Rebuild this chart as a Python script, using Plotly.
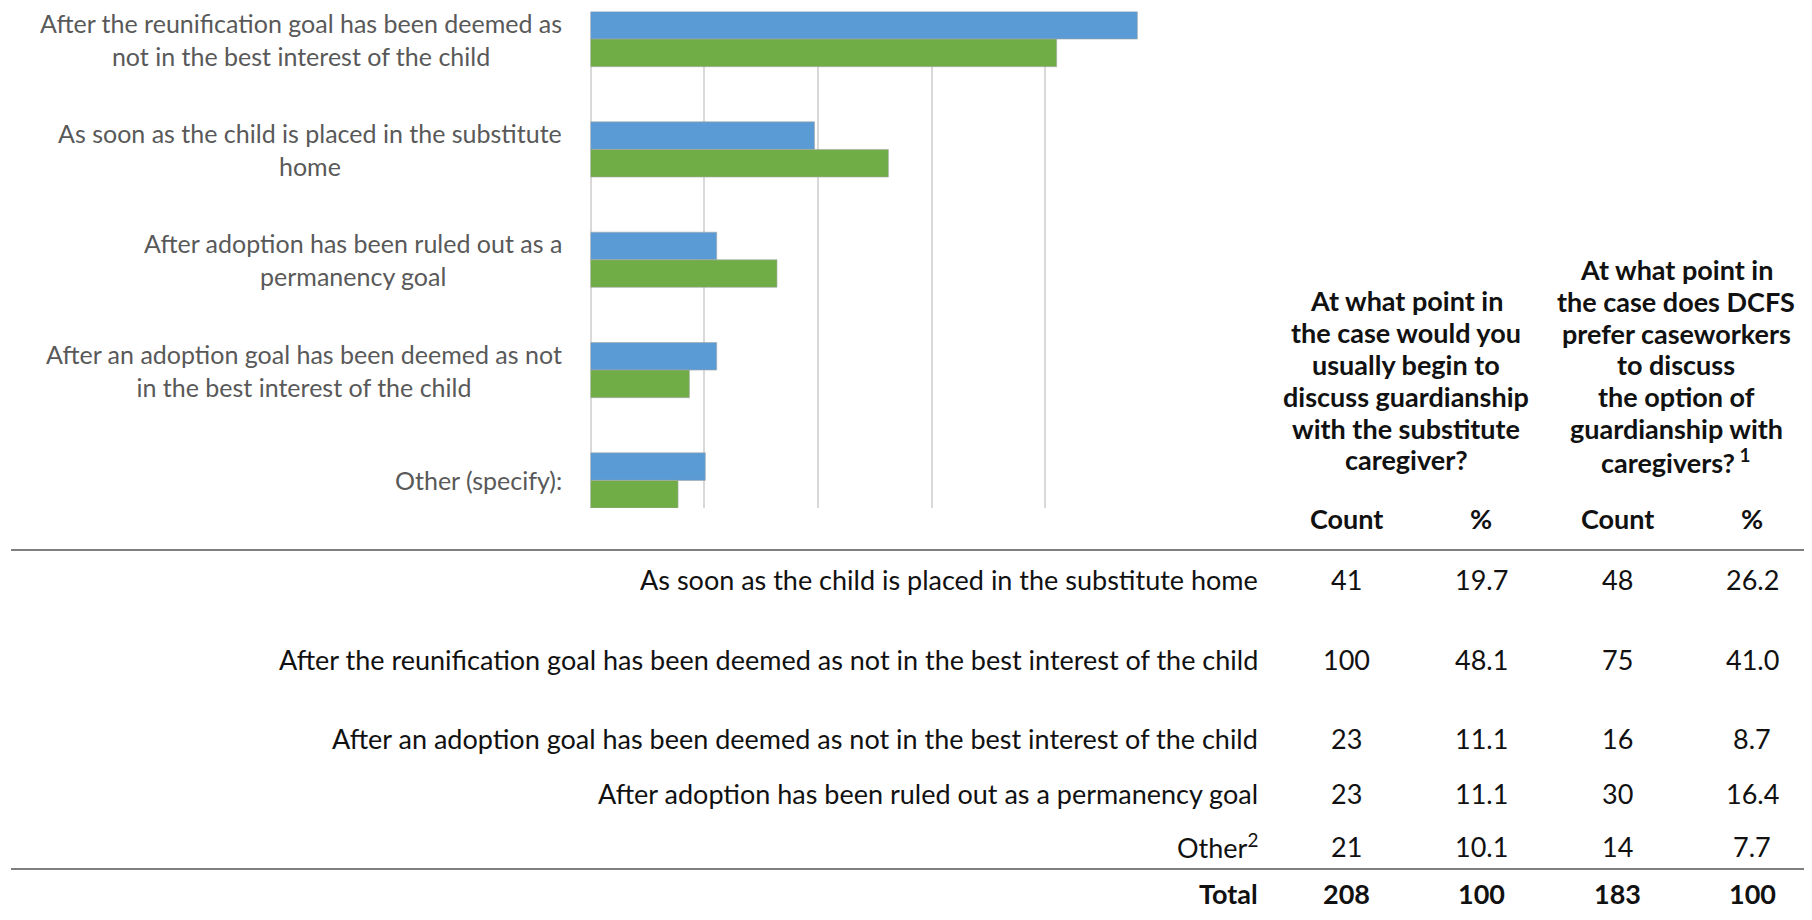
import plotly.graph_objects as go

# page body has an 8px margin; size figure so it fills the 1812x920 window
OFF = 8
W, H = 1812 - 2 * OFF, 920 - 2 * OFF

# ---- data ----
chart_categories = [
    "After the reunification goal has been deemed as<br>not in the best interest of the child",
    "As soon as the child is placed in the substitute<br>home",
    "After adoption has been ruled out as a<br>permanency goal",
    "After an adoption goal has been deemed as not<br>in the best interest of the child",
    "Other (specify):",
]
caseworker_pct_chart = [48.1, 19.7, 11.1, 11.1, 10.1]
dcfs_pct_chart = [41.0, 26.2, 16.4, 8.7, 7.7]

table_rows = [
    "As soon as the child is placed in the substitute home",
    "After the reunification goal has been deemed as not in the best interest of the child",
    "After an adoption goal has been deemed as not in the best interest of the child",
    "After adoption has been ruled out as a permanency goal",
    "Other<sup>2</sup>",
    "<b>Total</b>",
]
caseworker_count = ["41", "100", "23", "23", "21", "208"]
caseworker_pct = ["19.7", "48.1", "11.1", "11.1", "10.1", "100"]
dcfs_count = ["48", "75", "16", "30", "14", "183"]
dcfs_pct = ["26.2", "41.0", "8.7", "16.4", "7.7", "100"]

header1_lines = ["At what point in", "the case would you", "usually begin to",
                 "discuss guardianship", "with the substitute", "caregiver?"]
header2_lines = ["At what point in", "the case does DCFS", "prefer caseworkers",
                 "to discuss", "the option of", "guardianship with",
                 "caregivers?<sup> 1</sup>"]
col_labels = ["Count", "%", "Count", "%"]

# ---- layout helpers (reference pixel coords -> paper) ----
def px(x):
    return (x - OFF) / W

def py(y):
    return 1 - (y - OFF) / H

FONT = "Lato, 'Liberation Sans', sans-serif"
BLUE = "#5B9BD5"
GREEN = "#70AD47"

fig = go.Figure()
fig.add_trace(go.Bar(
    y=chart_categories, x=caseworker_pct_chart, orientation="h",
    marker=dict(color=BLUE, line=dict(color="#A6A6A6", width=0.6)),
    name="Caseworkers", hoverinfo="x",
))
fig.add_trace(go.Bar(
    y=chart_categories, x=dcfs_pct_chart, orientation="h",
    marker=dict(color=GREEN, line=dict(color="#A6A6A6", width=0.6)),
    name="DCFS", hoverinfo="x",
))

fig.update_layout(
    width=W, height=H, autosize=False,
    margin=dict(l=0, r=0, t=0, b=0),
    paper_bgcolor="white", plot_bgcolor="white",
    showlegend=False,
    barmode="group", bargap=0.5, bargroupgap=0,
    font=dict(family=FONT),
    xaxis=dict(
        domain=[px(590.5), px(1159)], range=[0, 50], dtick=10, tick0=0,
        showgrid=True, gridcolor="#D9D9D9", gridwidth=2,
        zeroline=True, zerolinecolor="#D9D9D9", zerolinewidth=2,
        showticklabels=False, showline=False, ticks="",
    ),
    yaxis=dict(
        domain=[py(508), py(11.5)],
        categoryorder="array", categoryarray=chart_categories,
        range=[4.25, -0.25],
        showticklabels=False, showgrid=False, zeroline=False, showline=False, ticks="",
    ),
)

annotations = []
# chart category labels
for cat in chart_categories:
    annotations.append(dict(
        text=cat, x=px(564), xref="paper", y=cat, yref="y",
        xanchor="right", yanchor="middle", align="center", showarrow=False,
        font=dict(family=FONT, size=25, color="#595959"),
    ))

S = 1812 / 1568.0  # reference shrink factor
hdr_font = dict(family=FONT, size=27, color="#111111")
for i, line in enumerate(header1_lines):
    annotations.append(dict(
        text="<b>" + line + "</b>", x=px(1406), y=py((260 + 27.6 * i) * S),
        xref="paper", yref="paper", xanchor="center", yanchor="middle",
        showarrow=False, font=hdr_font,
    ))
for i, line in enumerate(header2_lines):
    annotations.append(dict(
        text="<b>" + line + "</b>", x=px(1676), y=py((233 + 27.6 * i) * S),
        xref="paper", yref="paper", xanchor="center", yanchor="middle",
        showarrow=False, font=hdr_font,
    ))

col_x = [1346, 1481, 1617, 1752]
for cx, lab in zip(col_x, col_labels):
    annotations.append(dict(
        text="<b>" + lab + "</b>", x=px(cx), y=py(518), xref="paper", yref="paper",
        xanchor="center", yanchor="middle", showarrow=False, font=hdr_font,
    ))

row_font = dict(family=FONT, size=27, color="#111111")
row_y = [579, 659, 738, 793, 846, 893]
for i, (lab, yy) in enumerate(zip(table_rows, row_y)):
    bold = i == len(table_rows) - 1
    annotations.append(dict(
        text=lab, x=px(1260), y=py(yy), xref="paper", yref="paper",
        xanchor="right", yanchor="middle", showarrow=False, font=row_font,
    ))
    for cx, col in zip(col_x, [caseworker_count, caseworker_pct, dcfs_count, dcfs_pct]):
        val = col[i]
        annotations.append(dict(
            text=("<b>" + val + "</b>") if bold else val,
            x=px(cx), y=py(yy), xref="paper", yref="paper",
            xanchor="center", yanchor="middle", showarrow=False, font=row_font,
        ))

fig.update_layout(annotations=annotations)

# table rules
for yy in [550, 869]:
    fig.add_shape(type="line", xref="paper", yref="paper",
                  x0=px(11), x1=1, y0=py(yy), y1=py(yy),
                  line=dict(color="#555555", width=1.5))

fig.write_html("out.html")
